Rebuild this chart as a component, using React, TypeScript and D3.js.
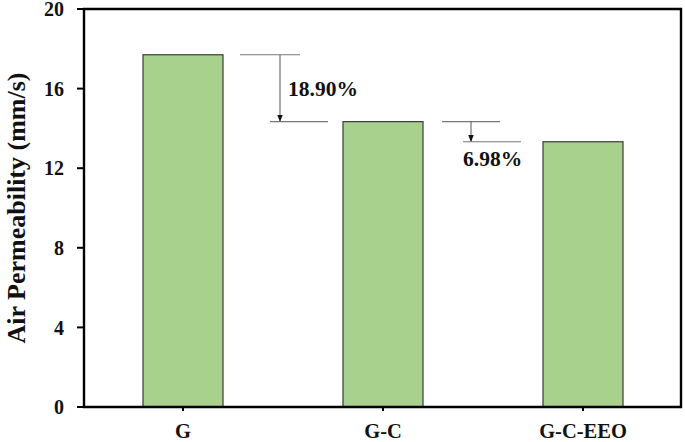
import React from "react";
import * as d3 from "d3";

// data
const categories = ["G", "G-C", "G-C-EEO"];
const permeability = [17.7, 14.34, 13.33];
const yTicks = [0, 4, 8, 12, 16, 20];
// drops between neighbouring bars: [from index, to index, label]
const drops: [number, number, string][] = [
  [0, 1, "18.90%"],
  [1, 2, "6.98%"],
];

const W = 685,
  H = 442;
const frame = { left: 84, right: 681, top: 9, bottom: 407 };
const font = "'Liberation Serif', 'Times New Roman', serif";

// bracket offsets from the right edge of the higher bar
const bracketLayout = [
  { topL: 17, topR: 77, arrow: 57, botL: 47, botR: 105, tx: 65, ty: -26 },
  { topL: 19, topR: 77, arrow: 48, botL: 40, botR: 98, tx: 40, ty: 24 },
];

const App = () => {
  const x = d3
    .scaleBand<string>()
    .domain(categories)
    .range([83, 683])
    .paddingInner(0.6)
    .paddingOuter(0.3);

  const y = d3.scaleLinear().domain([0, 20]).range([frame.bottom, frame.top]);

  const bw = x.bandwidth();

  return (
    <svg width={W} height={H} style={{ position: "absolute", left: 0, top: 0 }}>
      <defs>
        <marker
          id="arr"
          viewBox="0 0 10 10"
          refX="9"
          refY="5"
          markerWidth="7"
          markerHeight="7"
          orient="auto"
        >
          <path d="M0,1 L10,5 L0,9 z" fill="#111" />
        </marker>
      </defs>
      <rect width={W} height={H} fill="#fff" />

      {/* bars */}
      {categories.map((c, i) => (
        <rect
          key={c}
          x={x(c)}
          y={y(permeability[i])}
          width={bw}
          height={y(0) - y(permeability[i])}
          fill="#a9d18e"
          stroke="#3a3a3a"
          strokeWidth={1.2}
        />
      ))}

      {/* drop annotations */}
      {drops.map(([a, b, label], k) => {
        const L = bracketLayout[k];
        const x0 = (x(categories[a]) as number) + bw;
        const yTop = y(permeability[a]);
        const yBot = y(permeability[b]);
        const ax = x0 + L.arrow;
        return (
          <g key={label}>
            <line x1={x0 + L.topL} x2={x0 + L.topR} y1={yTop} y2={yTop} stroke="#777" strokeWidth={1.2} />
            <line x1={x0 + L.botL} x2={x0 + L.botR} y1={yBot} y2={yBot} stroke="#777" strokeWidth={1.2} />
            <line
              x1={ax}
              x2={ax}
              y1={yTop}
              y2={yBot - 0.5}
              stroke="#555"
              strokeWidth={1}
              markerEnd="url(#arr)"
            />
            <text
              x={x0 + L.tx}
              y={yBot + L.ty}
              fontFamily={font}
              fontWeight="bold"
              fontSize={21.5}
              fill="#111"
            >
              {label}
            </text>
          </g>
        );
      })}

      {/* frame */}
      <path
        d={`M${frame.left},${frame.top}H${frame.right}V${frame.bottom}H${frame.left}Z`}
        fill="none"
        stroke="#000"
        strokeWidth={2.4}
      />

      {/* y axis ticks */}
      {yTicks.map((t) => (
        <g key={t}>
          <line x1={frame.left - 7} x2={frame.left} y1={y(t)} y2={y(t)} stroke="#000" strokeWidth={2} />
          <text
            x={frame.left - 20}
            y={y(t)}
            dy="0.36em"
            textAnchor="end"
            fontFamily={font}
            fontWeight="bold"
            fontSize={20}
            fill="#111"
          >
            {t}
          </text>
        </g>
      ))}

      {/* x axis ticks */}
      {categories.map((c) => {
        const cx = (x(c) as number) + bw / 2;
        return (
          <g key={c}>
            <line x1={cx} x2={cx} y1={frame.bottom} y2={frame.bottom + 4} stroke="#000" strokeWidth={2} />
            <text
              x={cx}
              y={438}
              textAnchor="middle"
              fontFamily={font}
              fontWeight="bold"
              fontSize={20.5}
              fill="#111"
            >
              {c}
            </text>
          </g>
        );
      })}

      <text
        transform={`translate(25,${(frame.top + frame.bottom) / 2}) rotate(-90)`}
        textAnchor="middle"
        fontFamily={font}
        fontWeight="bold"
        fontSize={26}
        fill="#111"
      >
        Air Permeability (mm/s)
      </text>
    </svg>
  );
};

export default App;
